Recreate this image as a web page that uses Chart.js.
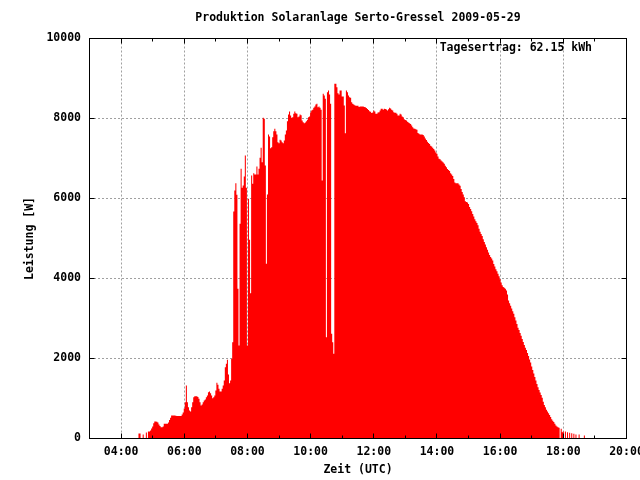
<!DOCTYPE html>
<html>
<head>
<meta charset="utf-8">
<script src="https://cdn.jsdelivr.net/npm/chart.js@4.4.1/dist/chart.umd.min.js"></script>
<style>html,body{margin:0;padding:0;background:#fff;}canvas{display:block;}</style>
</head>
<body>
<canvas id="c" width="640" height="480"></canvas>
<script>
// ---------- data ----------
const chartTitle = "Produktion Solaranlage Serto-Gressel 2009-05-29";
const xTitle = "Zeit (UTC)";
const yTitle = "Leistung [W]";
const yieldLabel = "Tagesertrag: 62.15 kWh";

const xMinMinute = 180;   // 03:00
const xMaxMinute = 1200;  // 20:00
const xTickMinutes = [240, 360, 480, 600, 720, 840, 960, 1080, 1200];
const xMinorTickMinutes = [300, 420, 540, 660, 780, 900, 1020, 1140];
const yTicks = [0, 2000, 4000, 6000, 8000, 10000];

// samples every 2 minutes, first sample at 04:30
const firstSampleMinute = 270;
const sampleStepMinutes = 2;
const power = [
  0, 0, 125, 125, 0, 0, 100, 0, 0, 150,
  0, 175, 175, 200, 250, 300, 380, 425, 425, 420,
  400, 350, 310, 283, 283, 300, 367, 367, 367, 367,
  400, 460, 520, 575, 575, 575, 575, 570, 565, 560,
  560, 560, 560, 600, 650, 750, 908, 1325, 908, 783,
  700, 675, 783, 908, 1033, 1058, 1058, 1058, 1040, 992,
  908, 825, 850, 908, 950, 975, 1033, 1075, 1158, 1175,
  1133, 1075, 1008, 1033, 1075, 1200, 1392, 1342, 1242, 1175,
  1175, 1242, 1325, 1450, 1783, 1867, 1967, 1600, 1383, 1450,
  1992, 2408, 5675, 6200, 6383, 6092, 3742, 2325, 5367, 6742,
  6267, 6325, 6550, 7075, 6267, 2325, 5992, 4967, 3633, 6575,
  6367, 6633, 6600, 6600, 6800, 6600, 6742, 7017, 7267, 6908,
  8017, 7992, 6825, 4367, 6100, 7600, 7550, 7258, 7283, 7533,
  7683, 7742, 7683, 7600, 7408, 7383, 7467, 7450, 7408, 7383,
  7450, 7600, 7700, 7933, 8100, 8175, 8075, 8017, 8033, 8117,
  8175, 8133, 8117, 8033, 8050, 8100, 8080, 7950, 7908, 7883,
  7900, 7930, 7970, 8030, 8050, 8150, 8200, 8220, 8267, 8300,
  8350, 8367, 8283, 8300, 8267, 8217, 6450, 8617, 8575, 8492,
  2533, 8658, 8700, 8600, 8367, 2617, 2408, 2117, 8867, 8867,
  8783, 8633, 8600, 8700, 8700, 8550, 8550, 8325, 7633, 8700,
  8658, 8575, 8533, 8517, 8408, 8367, 8350, 8333, 8317, 8317,
  8317, 8290, 8300, 8300, 8300, 8300, 8290, 8283, 8260, 8235,
  8210, 8183, 8170, 8140, 8150, 8200, 8175, 8117, 8117, 8150,
  8158, 8200, 8242, 8242, 8220, 8242, 8240, 8225, 8200, 8230,
  8267, 8250, 8220, 8200, 8158, 8142, 8142, 8117, 8075, 8075,
  8117, 8100, 8050, 8033, 7980, 7960, 7950, 7920, 7900, 7883,
  7860, 7825, 7780, 7750, 7742, 7733, 7717, 7640, 7617, 7600,
  7600, 7600, 7590, 7550, 7500, 7460, 7420, 7390, 7360, 7320,
  7300, 7270, 7240, 7200, 7150, 7117, 7050, 6992, 6980, 6950,
  6925, 6900, 6867, 6820, 6780, 6740, 6710, 6685, 6630, 6600,
  6560, 6490, 6400, 6383, 6383, 6380, 6350, 6320, 6240, 6160,
  6100, 6030, 5933, 5915, 5900, 5860, 5790, 5740, 5680, 5610,
  5550, 5480, 5430, 5390, 5330, 5242, 5170, 5110, 5060, 4980,
  4910, 4850, 4780, 4720, 4650, 4590, 4540, 4500, 4450, 4360,
  4300, 4230, 4180, 4120, 4055, 3980, 3900, 3830, 3790, 3770,
  3742, 3700, 3600, 3450, 3380, 3320, 3250, 3180, 3117, 3030,
  2950, 2860, 2770, 2710, 2640, 2570, 2490, 2410, 2340, 2270,
  2210, 2140, 2060, 1975, 1900, 1800, 1710, 1625, 1540, 1450,
  1365, 1280, 1210, 1150, 1090, 1020, 920, 840, 780, 720,
  675, 630, 590, 540, 480, 445, 410, 370, 325, 300,
  283, 267, 0, 242, 158, 175, 0, 175, 0, 158,
  0, 142, 0, 133, 0, 117, 0, 100, 0, 0,
  100, 0, 0, 0, 0, 75, 0
];
const sampleMinutes = power.map((_, i) => firstSampleMinute + i * sampleStepMinutes);

// ---------- chart ----------
const FONT_FAMILY = '"DejaVu Sans Mono", "Liberation Mono", monospace';
const tickFont = { family: FONT_FAMILY, size: 11.5, weight: 'bold', lineHeight: 1.2 };

function fmtTime(m) {
  const h = Math.floor(m / 60), mm = Math.round(m % 60);
  return String(h).padStart(2, '0') + ':' + String(mm).padStart(2, '0');
}

const framePlugin = {
  id: 'gnuplotFrame',
  afterDatasetsDraw(chart) {
    const { ctx, chartArea: a, scales: { x, y } } = chart;
    const al = p => Math.round(p - 0.5) + 0.5;
    ctx.save();
    ctx.strokeStyle = '#000';
    ctx.lineWidth = 1;
    ctx.setLineDash([]);
    ctx.beginPath();
    const vtick = (v, len) => {
      const px = al(x.getPixelForValue(v));
      ctx.moveTo(px, a.bottom); ctx.lineTo(px, a.bottom - len);
      ctx.moveTo(px, a.top); ctx.lineTo(px, a.top + len);
    };
    xTickMinutes.forEach(v => vtick(v, 5));
    xMinorTickMinutes.forEach(v => vtick(v, 3));
    yTicks.forEach(v => {
      const py = al(y.getPixelForValue(v));
      ctx.moveTo(a.left, py); ctx.lineTo(a.left + 5, py);
      ctx.moveTo(a.right, py); ctx.lineTo(a.right - 5, py);
    });
    ctx.stroke();
    ctx.strokeRect(a.left, a.top, a.right - a.left, a.bottom - a.top);

    ctx.fillStyle = '#000';
    ctx.font = 'bold 11.5px ' + FONT_FAMILY;
    ctx.textBaseline = 'middle';
    ctx.textAlign = 'center';
    ctx.fillText(chartTitle, (a.left + a.right) / 2, 18);
    ctx.textAlign = 'right';
    ctx.fillText(yieldLabel, 592, 48.5);
    ctx.restore();
  }
};

new Chart(document.getElementById('c'), {
  type: 'line',
  data: {
    datasets: [{
      data: sampleMinutes.map((t, i) => ({ x: t, y: power[i] })),
      stepped: 'middle',
      fill: 'origin',
      backgroundColor: '#ff0000',
      borderColor: 'rgba(0,0,0,0)',
      borderWidth: 0,
      pointRadius: 0,
      pointHoverRadius: 0
    }]
  },
  options: {
    responsive: false,
    animation: false,
    events: [],
    layout: { padding: { top: 38.5, right: 13.5, bottom: 0, left: 0 } },
    plugins: {
      legend: { display: false },
      tooltip: { enabled: false },
      title: { display: false }
    },
    scales: {
      x: {
        type: 'linear',
        min: xMinMinute,
        max: xMaxMinute,
        afterBuildTicks: s => { s.ticks = xTickMinutes.map(v => ({ value: v })); },
        afterFit: s => { s.height = 41.5; s.paddingLeft = 0; s.paddingRight = 0; },
        ticks: {
          callback: v => fmtTime(v),
          font: tickFont, color: '#000', padding: 6.6,
          maxRotation: 0, minRotation: 0, autoSkip: false
        },
        grid: { color: '#a0a0a0', lineWidth: 1, drawTicks: false },
        border: { display: false, dash: [2, 2] },
        title: { display: true, text: xTitle, font: tickFont, color: '#000', padding: { top: 0, bottom: 3 } }
      },
      y: {
        min: 0,
        max: 10000,
        afterBuildTicks: s => { s.ticks = yTicks.map(v => ({ value: v })); },
        afterFit: s => { s.width = 89.5; s.paddingTop = 0; s.paddingBottom = 0; },
        ticks: {
          callback: v => String(v),
          font: tickFont, color: '#000', padding: 8.5
        },
        grid: { color: '#a0a0a0', lineWidth: 1, drawTicks: false },
        border: { display: false, dash: [2, 2] },
        title: { display: true, text: yTitle, font: tickFont, color: '#000', padding: { top: 23, bottom: 0 } }
      }
    }
  },
  plugins: [framePlugin]
});
</script>
</body>
</html>
